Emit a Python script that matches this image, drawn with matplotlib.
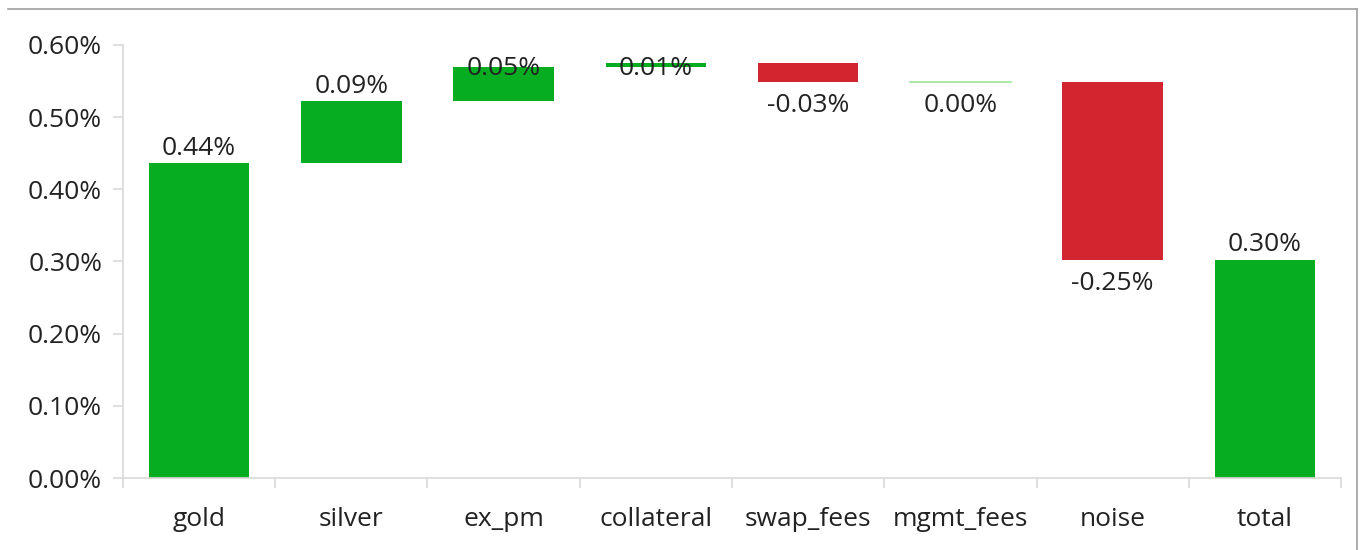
import matplotlib.pyplot as plt
from matplotlib.lines import Line2D
from matplotlib.ticker import FuncFormatter
import numpy as np

plt.rcParams['font.family'] = ['Open Sans', 'DejaVu Sans']
plt.rcParams['font.size'] = 19

# Data (contributions in %)
categories = ['gold', 'silver', 'ex_pm', 'collateral', 'swap_fees', 'mgmt_fees', 'noise']
changes = [0.436, 0.086, 0.047, 0.006, -0.026, 0.0, -0.247]
total_label = 'total'

green = '#07ad20'
red = '#d12630'
zero_col = '#9be29b'
grid_col = '#d9d9d9'
text_col = '#222222'

total = sum(changes)
starts = np.concatenate([[0], np.cumsum(changes)[:-1]])
ends = starts + np.array(changes)

labels = categories + [total_label]
x = np.arange(len(labels))
bar_w = 0.66
label_cap = 0.546
fs = 19

fig = plt.figure(figsize=(13.62, 5.5), dpi=100)
ax = fig.add_axes([0.0903, 0.1309, 0.8943, 0.7873])

for i, (s, c) in enumerate(zip(starts, changes)):
    if c == 0:
        ax.plot([i - bar_w/2, i + bar_w/2], [s, s], color=zero_col, lw=1.2)
    else:
        ax.bar(i, c, bottom=s, width=bar_w, color=green if c > 0 else red)
ax.bar(len(categories), total, width=bar_w, color=green)

# value labels
for i, (s, e, c) in enumerate(zip(starts, ends, changes)):
    txt = '%.2f%%' % c
    if c > 0:
        ax.annotate(txt, (i, min(e, label_cap)), xytext=(0, 2), textcoords='offset points',
                    ha='center', va='bottom', color=text_col, fontsize=fs)
    else:
        ax.annotate(txt, (i, min(s, e)), xytext=(0, -8), textcoords='offset points',
                    ha='center', va='top', color=text_col, fontsize=fs)
ax.annotate('%.2f%%' % total, (len(categories), total), xytext=(0, 2),
            textcoords='offset points', ha='center', va='bottom', color=text_col, fontsize=fs)

ax.set_xlim(-0.5, len(labels) - 0.5)
ax.set_ylim(0, 0.6)
ax.set_yticks(np.arange(0, 0.61, 0.1))
ax.yaxis.set_major_formatter(FuncFormatter(lambda v, p: '%.2f%%' % v))
ax.set_xticks(x)
ax.set_xticklabels(labels)
ax.set_xticks(np.arange(-0.5, len(labels)), minor=True)

for sp in ['top', 'right']:
    ax.spines[sp].set_visible(False)
for sp in ['left', 'bottom']:
    ax.spines[sp].set_color(grid_col)
    ax.spines[sp].set_linewidth(1.2)

ax.tick_params(axis='y', length=7, width=1.2, color=grid_col, pad=8, labelcolor=text_col, labelsize=fs)
ax.tick_params(axis='x', which='major', length=0, pad=21, labelcolor=text_col, labelsize=fs)
ax.tick_params(axis='x', which='minor', length=7, width=1.2, color=grid_col)

# outer frame lines (top and right)
fig.add_artist(Line2D([8/1362, 1357/1362], [1 - 9/550, 1 - 9/550], color='#a0a0a0', lw=1.2))
fig.add_artist(Line2D([1357/1362, 1357/1362], [1 - 9/550, 0], color='#a0a0a0', lw=1.2))

fig.savefig('out.png', dpi=100)
